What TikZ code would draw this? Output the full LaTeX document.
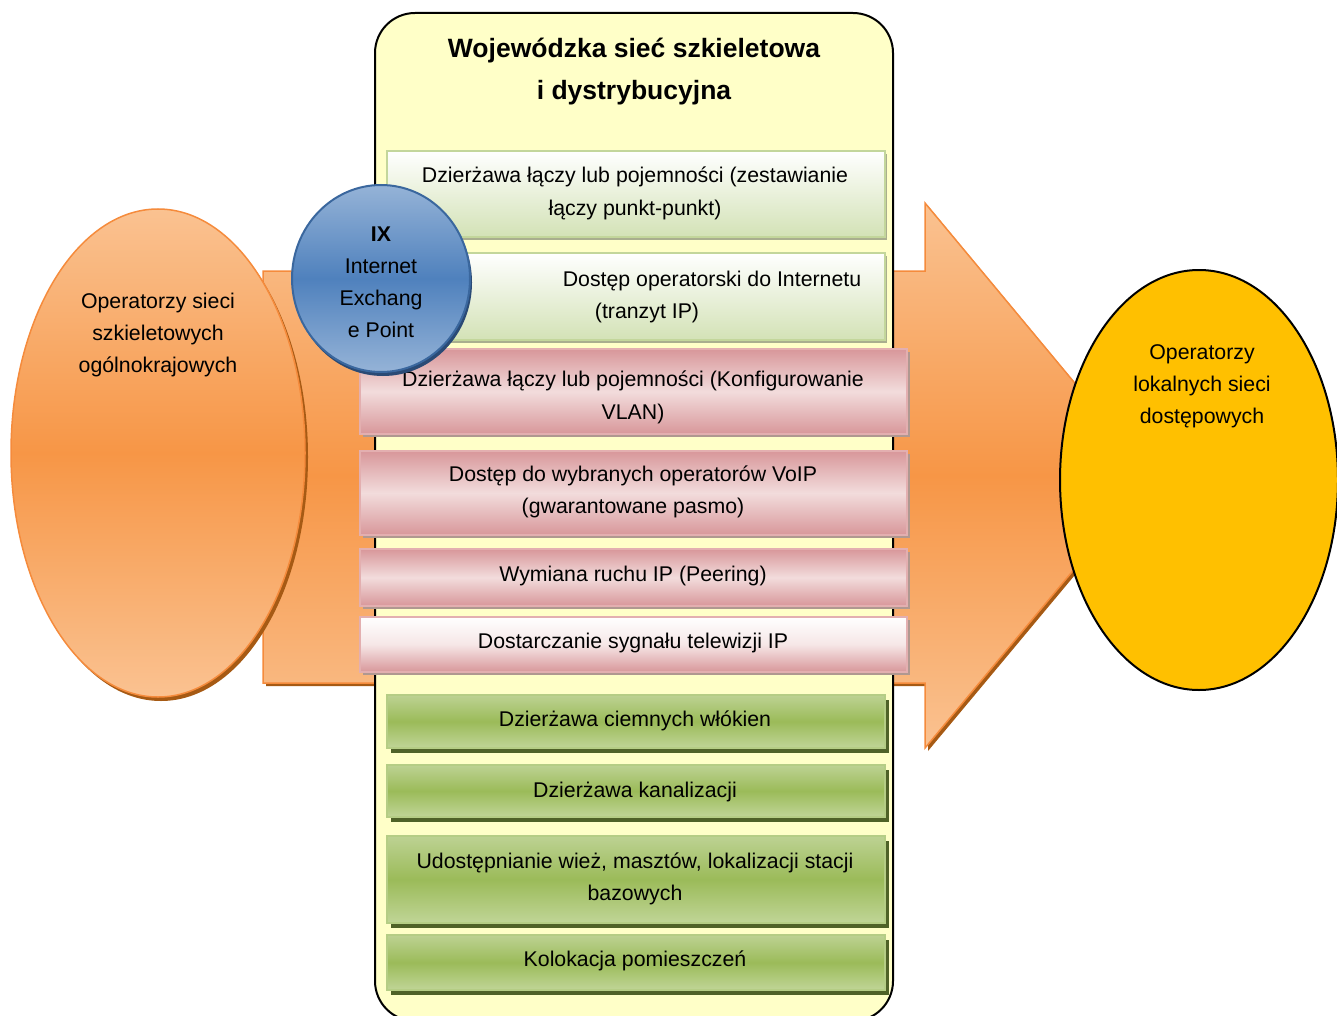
\documentclass[tikz,border=0pt]{standalone}
\usepackage{fontspec}
\setmainfont{Liberation Sans}
\usetikzlibrary{shapes.geometric,shadows}
\definecolor{contfill}{HTML}{FFFFC8}
\definecolor{arlight}{HTML}{FAC291}
\definecolor{armid}{HTML}{F79646}
\definecolor{arborder}{HTML}{F58B3C}
\definecolor{arshadow}{HTML}{A65A14}
\definecolor{lgbot}{HTML}{D3E2B6}
\definecolor{lgborder}{HTML}{C3D69B}
\definecolor{lgshadow}{HTML}{A9AE8E}
\definecolor{pkdark}{HTML}{D8979A}
\definecolor{pklight}{HTML}{F2DCDC}
\definecolor{pkborder}{HTML}{E3AFB0}
\definecolor{pkshadow}{HTML}{B09890}
\definecolor{dgtop}{HTML}{BDD293}
\definecolor{dgmid}{HTML}{9BBB59}
\definecolor{dgbot}{HTML}{C0D597}
\definecolor{dgborder}{HTML}{B5CD85}
\definecolor{dgshadow}{HTML}{4F6228}
\definecolor{bllight}{HTML}{95B3D7}
\definecolor{blmid}{HTML}{4F81BD}
\definecolor{blborder}{HTML}{3A679E}
\definecolor{blshadow}{HTML}{2A4A75}
\definecolor{yelfill}{HTML}{FFC000}
\begin{document}
\begin{tikzpicture}[x=1pt,y=-1pt,
  every node/.style={inner sep=0pt,outer sep=0pt,align=center,font=\fontsize{21.3}{32}\selectfont},
  lgbox/.style={rectangle,draw=lgborder,line width=2pt,top color=white,bottom color=lgbot,
    minimum width=498pt,general shadow={fill=lgshadow,shadow xshift=2pt,shadow yshift=-3pt}},
  pkbox/.style={rectangle,draw=pkborder,line width=2pt,top color=pkdark,bottom color=pkdark,middle color=pklight,
    minimum width=547pt,general shadow={fill=pkshadow,shadow xshift=3pt,shadow yshift=-3pt}},
  pkwbox/.style={rectangle,draw=pkborder,line width=2pt,top color=white,bottom color=pkdark,middle color=pklight!70!white,
    minimum width=547pt,general shadow={fill=pkshadow,shadow xshift=3pt,shadow yshift=-3pt}},
  dgbox/.style={rectangle,draw=dgborder,line width=2pt,top color=dgtop,bottom color=dgbot,middle color=dgmid,
    minimum width=498pt,general shadow={fill=dgshadow,shadow xshift=4pt,shadow yshift=-5pt}},
  oval/.style={ellipse,draw=arborder,line width=1.5pt,top color=arlight,bottom color=arlight,middle color=armid,
    general shadow={fill=arshadow,shadow xshift=3pt,shadow yshift=-4pt}},
  ixstyle/.style={ellipse,draw=blborder,line width=2pt,top color=bllight,bottom color=bllight,middle color=blmid,
    general shadow={fill=blshadow,shadow xshift=2pt,shadow yshift=-4pt}},
  titlefont/.style={font=\fontsize{26.5}{42}\selectfont\bfseries}
]
\useasboundingbox (0,0) rectangle (1337,1016);
\clip (0,0) rectangle (1337,1016);
% big arrow
\fill[arshadow,shift={(3,3)}] (263,271) -- (925,271) -- (925,203) -- (1152,476) -- (925,748) -- (925,683) -- (263,683) -- cycle;
\draw[draw=arborder,line width=1.5pt,top color=arlight,bottom color=arlight,middle color=armid]
  (263,271) -- (925,271) -- (925,203) -- (1152,476) -- (925,748) -- (925,683) -- (263,683) -- cycle;
% left ellipse
\node[oval,minimum width=294pt,minimum height=488pt] (lell) at (158,453) {};
\node (ltxt) at (158,335) {Operatorzy sieci\\szkieletowych\\ogólnokrajowych};
% container
\node[rectangle,rounded corners=40pt,draw=black,line width=2pt,fill=contfill,
  minimum width=518pt,minimum height=1008pt] (cont) at (634,517) {};
\node[titlefont] (title) at (634,72) {Wojewódzka sieć szkieletowa\\i dystrybucyjna};
% boxes
\node[lgbox,minimum height=86pt] (b1) at (636,194) {};
\node[lgbox,minimum height=87pt] (b2) at (636,296.5) {};
\node[pkbox,minimum height=85pt] (b3) at (633.5,391.5) {};
\node[pkbox,minimum height=84pt] (b4) at (633.5,493) {};
\node[pkbox,minimum height=57pt] (b5) at (633.5,577.5) {};
\node[pkwbox,minimum height=55pt] (b6) at (633.5,644.5) {};
\node[dgbox,minimum height=53pt] (b7) at (636,721.5) {};
\node[dgbox,minimum height=52pt] (b8) at (636,791) {};
\node[dgbox,minimum height=87pt] (b9) at (636,879.5) {};
\node[dgbox,minimum height=55pt] (b10) at (636,962.5) {};
% box texts
\node[font=\fontsize{21.3}{33}\selectfont] (b1t) at (635,193.5) {Dzierżawa łączy lub pojemności (zestawianie\\łączy punkt-punkt)};
\node (b2a) at (712,281) {Dostęp operatorski do Internetu};
\node (b2b) at (647,313) {(tranzyt IP)};
\node[font=\fontsize{21.3}{33}\selectfont] (b3t) at (633,397.5) {Dzierżawa łączy lub pojemności (Konfigurowanie\\VLAN)};
\node (b4t) at (633,491.5) {Dostęp do wybranych operatorów VoIP\\(gwarantowane pasmo)};
\node (b5t) at (633,576) {Wymiana ruchu IP (Peering)};
\node (b6t) at (633,643) {Dostarczanie sygnału telewizji IP};
\node (b7t) at (635,721) {Dzierżawa ciemnych włókien};
\node (b8t) at (635,792) {Dzierżawa kanalizacji};
\node (b9t) at (635,879) {Udostępnianie wież, masztów, lokalizacji stacji\\bazowych};
\node (b10t) at (635,961) {Kolokacja pomieszczeń};
% IX circle
\node[ixstyle,minimum width=178pt,minimum height=187pt] (ix) at (381,278.5) {};
\node (ixt) at (381,282.5) {\textbf{IX}\\Internet\\Exchang\\e Point};
% right ellipse
\node[ellipse,draw=black,line width=2pt,fill=yelfill,minimum width=278pt,minimum height=420pt] (rell) at (1199,480) {};
\node (rtxt) at (1202,386.5) {Operatorzy\\lokalnych sieci\\dostępowych};
\end{tikzpicture}
\end{document}
